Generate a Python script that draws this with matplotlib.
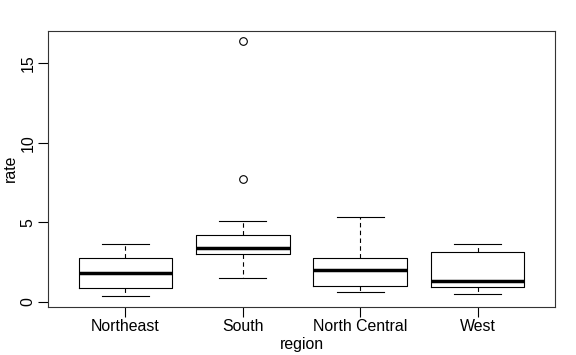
import matplotlib
matplotlib.use("Agg")
import matplotlib.pyplot as plt

# ── data ──────────────────────────────────────────────────────────────────────
regions   = ["Northeast", "South", "North Central", "West"]
whisk_lo  = [0.36, 1.47, 0.59, 0.50]
q1        = [0.84, 3.00, 0.99, 0.91]
medians   = [1.83, 3.40, 1.99, 1.32]
q3        = [2.73, 4.22, 2.77, 3.11]
whisk_hi  = [3.61, 5.08, 5.35, 3.63]
outliers  = [[], [7.72, 16.43], [], []]
y_ticks   = [0, 5, 10, 15]

plt.rcParams["font.family"] = ["Liberation Sans", "DejaVu Sans"]
FS = 11.4

stats = []
for i, name in enumerate(regions):
    stats.append({"label": name, "whislo": whisk_lo[i], "q1": q1[i],
                  "med": medians[i], "q3": q3[i], "whishi": whisk_hi[i],
                  "fliers": outliers[i]})

fig = plt.figure(figsize=(5.76, 3.55), dpi=100)
ax = fig.add_axes([48 / 576, 1 - 306.7 / 355, 507 / 576, 276 / 355])

ax.bxp(stats, positions=range(1, len(regions) + 1), widths=0.8,
       boxprops=dict(color="black", linewidth=0.8),
       medianprops=dict(color="black", linewidth=2.5, solid_capstyle="butt"),
       whiskerprops=dict(color="black", linewidth=0.8, linestyle=(0, (4, 3))),
       capprops=dict(color="black", linewidth=0.8),
       capwidths=0.4,
       flierprops=dict(marker="o", markersize=5.5, markerfacecolor="none",
                       markeredgecolor="black", markeredgewidth=0.8))

ax.set_xlim(0.34, len(regions) + 0.66)
ax.set_ylim(-0.31, 17.05)
ax.set_yticks(y_ticks)
ax.set_yticklabels([str(t) for t in y_ticks], rotation=90, va="center")
ax.tick_params(axis="both", length=7, width=0.8, labelsize=FS, colors="black")
ax.tick_params(axis="x", pad=2)
ax.tick_params(axis="y", pad=2)
for s in ax.spines.values():
    s.set_linewidth(0.8)
    s.set_color("#333333")

ax.set_xlabel("region", fontsize=FS, labelpad=2)
ax.set_ylabel("rate", fontsize=FS, labelpad=2)

fig.savefig("out.png", dpi=100)
